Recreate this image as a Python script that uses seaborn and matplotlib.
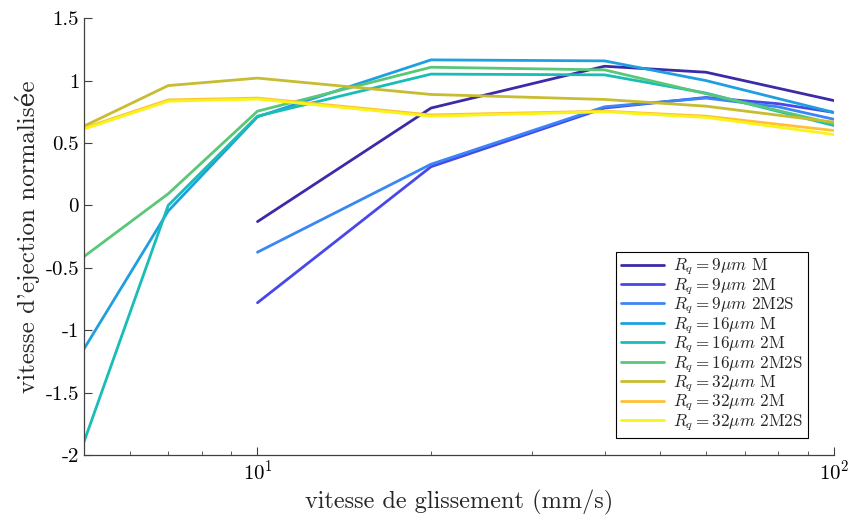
import numpy as np
import pandas as pd
import matplotlib
matplotlib.use("Agg")
import matplotlib.pyplot as plt
import seaborn as sns
from matplotlib.ticker import FixedLocator, FuncFormatter

# sliding speeds (mm/s)
x_9 = [10, 20, 40, 60, 100]
x_9b = [10, 20, 40, 60, 80, 100]
x_full = [5, 7, 10, 20, 40, 60, 100]

# normalised ejection speed
r9_M = [-0.13, 0.78, 1.115, 1.067, 0.84]
r9_2M = [-0.78, 0.31, 0.78, 0.865, 0.815, 0.745]
r9_2M2S = [-0.375, 0.33, 0.79, 0.86, 0.79, 0.69]
r16_M = [-1.15, -0.045, 0.71, 1.166, 1.158, 1.0, 0.745]
r16_2M = [-1.895, 0.0, 0.715, 1.052, 1.046, 0.9, 0.64]
r16_2M2S = [-0.41, 0.093, 0.755, 1.107, 1.086, 0.895, 0.655]
r32_M = [0.635, 0.96, 1.02, 0.889, 0.849, 0.795, 0.667]
r32_2M = [0.62, 0.845, 0.86, 0.725, 0.755, 0.715, 0.60]
r32_2M2S = [0.612, 0.835, 0.852, 0.715, 0.75, 0.705, 0.568]

labels = [
    r"$R_q = 9\mu m$ M",
    r"$R_q = 9\mu m$ 2M",
    r"$R_q = 9\mu m$ 2M2S",
    r"$R_q = 16\mu m$ M",
    r"$R_q = 16\mu m$ 2M",
    r"$R_q = 16\mu m$ 2M2S",
    r"$R_q = 32\mu m$ M",
    r"$R_q = 32\mu m$ 2M",
    r"$R_q = 32\mu m$ 2M2S",
]
xs = [x_9, x_9b, x_9b, x_full, x_full, x_full, x_full, x_full, x_full]
ys = [r9_M, r9_2M, r9_2M2S, r16_M, r16_2M, r16_2M2S, r32_M, r32_2M, r32_2M2S]
colors = ["#3b2ba8", "#4848e8", "#3a86f6", "#1ea0e0", "#18bdb8",
          "#58c878", "#c8bc30", "#ffc038", "#f8f418"]

rows = []
for lab, xv, yv in zip(labels, xs, ys):
    for a, b in zip(xv, yv):
        rows.append({"vitesse": a, "ejection": b, "serie": lab})
df = pd.DataFrame(rows)

sns.set_style("ticks")
plt.rcParams["font.family"] = ["cmr10", "DejaVu Serif"]
plt.rcParams["mathtext.fontset"] = "cm"
plt.rcParams["axes.formatter.use_mathtext"] = True

fig = plt.figure(figsize=(8.49, 5.20), dpi=100)
ax = fig.add_axes([0.0989, 0.125, 0.8833, 0.840])

sns.lineplot(
    data=df, x="vitesse", y="ejection", hue="serie",
    hue_order=labels, palette=colors, estimator=None, sort=False,
    linewidth=2.0, ax=ax,
)

ax.set_xscale("log")
ax.set_xlim(5, 100)
ax.set_ylim(-2, 1.5)
ax.yaxis.set_major_locator(FixedLocator(np.arange(-2, 1.51, 0.5)))
ax.yaxis.set_major_formatter(FuncFormatter(lambda v, p: f"{v:g}"))

for s in ["top", "right"]:
    ax.spines[s].set_visible(False)
for s in ["left", "bottom"]:
    ax.spines[s].set_color("#404040")
    ax.spines[s].set_linewidth(0.9)
ax.tick_params(which="both", direction="in", colors="#404040",
               labelcolor="black", labelsize=15)
ax.tick_params(which="major", length=6)
ax.tick_params(which="minor", length=3)

ax.set_xlabel("vitesse de glissement (mm/s)", fontsize=17.5)
ax.set_ylabel("vitesse d'ejection normalisée", fontsize=18)

leg = ax.legend(loc="lower right", bbox_to_anchor=(0.965, 0.039),
                borderaxespad=0, fontsize=12.3, frameon=True,
                fancybox=False, edgecolor="black", framealpha=1,
                handlelength=2.5, labelspacing=-0.04, borderpad=0.3,
                handletextpad=0.5)
leg.get_frame().set_linewidth(0.8)

fig.savefig("out.png", dpi=100)
